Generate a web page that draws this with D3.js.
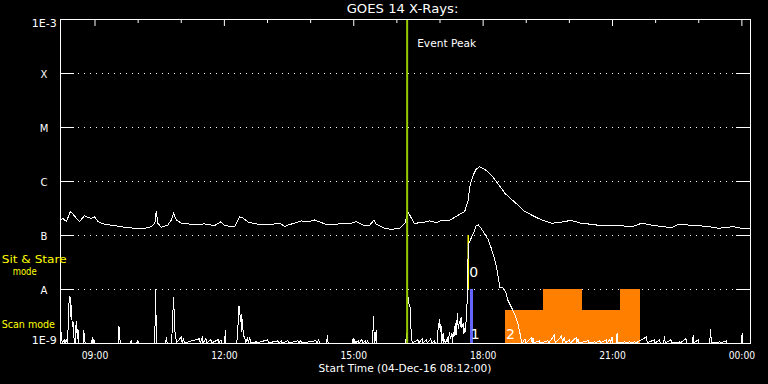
<!DOCTYPE html>
<html>
<head>
<meta charset="utf-8">
<script src="https://cdn.jsdelivr.net/npm/d3@7"></script>
<style>
  html, body { margin: 0; padding: 0; background: #000; }
  svg { display: block; }
  text { font-family: "DejaVu Sans", sans-serif; -webkit-font-smoothing: antialiased; }
</style>
</head>
<body>
<svg id="chart" width="768" height="384"></svg>
<script>
//// data
const chartTitle = 'GOES 14 X-Rays:';
const startLabel = 'Start Time (04-Dec-16 08:12:00)';
const windowStart = '08:12';
const windowEnd = '00:12';
const peakTime = '16:15';
const peakLabel = 'Event Peak';

// flare classes on the log axis
const classNames = ['X', 'M', 'C', 'B', 'A'];
const classFlux = [1e-4, 1e-5, 1e-6, 1e-7, 1e-8];
const edgeNames = ['1E-3', '1E-9'];
const edgeFlux = [1e-3, 1e-9];

// hourly ticks along the top, labelled every 3 hours below
const hourTicks = ['09:00', '10:00', '11:00', '12:00', '13:00', '14:00', '15:00', '16:00',
    '17:00', '18:00', '19:00', '20:00', '21:00', '22:00', '23:00', '00:00'];
const labelledHours = ['09:00', '12:00', '15:00', '18:00', '21:00', '00:00'];

// value below the plot floor (clamped to the bottom axis)
const F = 7e-10;

// 1-8 A channel
const longSeries = [
    ['08:12', 1.9e-7], ['08:14', 1.9e-7], ['08:16', 2.04e-7], ['08:21', 1.76e-7], ['08:26', 2.7e-7],
    ['08:29', 2.52e-7], ['08:33', 2.18e-7], ['08:39', 1.76e-7], ['08:46', 2.28e-7], ['08:51', 2.09e-7],
    ['08:56', 2.04e-7], ['09:00', 2.18e-7], ['09:05', 1.76e-7], ['09:14', 1.58e-7], ['09:28', 1.49e-7],
    ['09:42', 1.39e-7], ['09:56', 1.33e-7], ['10:10', 1.33e-7], ['10:19', 1.43e-7], ['10:24', 1.65e-7],
    ['10:26', 2.78e-7], ['10:28', 1.65e-7], ['10:33', 1.39e-7], ['10:42', 1.53e-7], ['10:47', 1.9e-7],
    ['10:50', 2.52e-7], ['10:54', 1.9e-7], ['11:01', 1.65e-7], ['11:15', 1.58e-7], ['11:33', 1.6e-7],
    ['11:47', 1.49e-7], ['11:56', 1.76e-7], ['12:01', 1.49e-7], ['12:15', 1.43e-7], ['12:22', 2.18e-7],
    ['12:27', 2.04e-7], ['12:34', 1.72e-7], ['12:48', 1.58e-7], ['13:06', 1.58e-7], ['13:18', 1.65e-7],
    ['13:25', 1.43e-7], ['13:29', 1.53e-7], ['13:38', 1.65e-7], ['13:48', 1.82e-7], ['13:57', 1.74e-7],
    ['14:06', 1.9e-7], ['14:16', 1.69e-7], ['14:25', 1.53e-7], ['14:39', 1.6e-7], ['14:53', 1.6e-7],
    ['15:04', 1.76e-7], ['15:14', 1.53e-7], ['15:23', 1.53e-7], ['15:29', 1.9e-7], ['15:32', 1.58e-7],
    ['15:44', 1.33e-7], ['15:53', 1.27e-7], ['16:05', 1.33e-7], ['16:12', 1.65e-7], ['16:16', 2.7e-7],
    ['16:21', 2.04e-7], ['16:25', 1.65e-7], ['16:35', 1.69e-7], ['16:46', 1.82e-7], ['16:56', 1.69e-7],
    ['17:02', 1.85e-7], ['17:12', 1.82e-7], ['17:19', 2.04e-7], ['17:28', 2.42e-7], ['17:35', 2.7e-7],
    ['17:40', 4.45e-7], ['17:42', 7.84e-7], ['17:47', 1.29e-6], ['17:51', 1.65e-6], ['17:56', 1.84e-6],
    ['18:03', 1.65e-6], ['18:12', 1.29e-6], ['18:21', 9.06e-7], ['18:31', 5.92e-7], ['18:40', 4.58e-7],
    ['18:52', 3.34e-7], ['18:58', 2.78e-7], ['19:08', 2.35e-7], ['19:17', 2.04e-7], ['19:26', 1.82e-7],
    ['19:36', 1.65e-7], ['19:49', 1.72e-7], ['20:03', 1.87e-7], ['20:17', 1.65e-7], ['20:31', 1.58e-7],
    ['20:45', 1.49e-7], ['20:59', 1.49e-7], ['21:13', 1.49e-7], ['21:27', 1.41e-7], ['21:41', 1.65e-7],
    ['21:55', 1.53e-7], ['22:09', 1.43e-7], ['22:23', 1.37e-7], ['22:32', 1.58e-7], ['22:46', 1.53e-7],
    ['23:00', 1.49e-7], ['23:14', 1.43e-7], ['23:28', 1.33e-7], ['23:37', 1.37e-7], ['23:48', 1.43e-7],
    ['00:00', 1.33e-7], ['00:12', 1.29e-7]
];

// 0.5-4 A channel
const shortSeries = [
    ['08:12', F], ['08:13', 1.3e-9], ['08:14', 1.62e-9], ['08:15', F], ['08:18', 1.14e-9], ['08:19', F],
    ['08:21', 1.2e-9], ['08:22', F], ['08:23', 1.5e-9], ['08:24', 4e-9], ['08:25', 7.2e-9], ['08:26', 7.0e-9],
    ['08:27', 3e-9], ['08:28', 5.1e-9], ['08:29', 2e-9], ['08:30', 2.6e-9], ['08:31', 1.3e-9], ['08:33', F],
    ['08:34', 2.0e-9], ['08:35', 2.55e-9], ['08:36', 1.2e-9], ['08:37', 1.8e-9], ['08:38', F], ['08:44', F],
    ['08:45', 1.74e-9], ['08:46', 1.3e-9], ['08:47', F], ['08:56', F], ['08:57', 1.3e-9], ['08:58', F],
    ['08:59', 1.2e-9], ['09:00', F], ['09:33', F], ['09:34', 2.06e-9], ['09:35', 1.3e-9], ['09:36', F],
    ['09:50', F], ['09:51', 1.1e-9], ['09:52', F], ['09:59', F], ['10:00', 1.15e-9], ['10:01', F],
    ['10:23', F], ['10:24', 1.4e-9], ['10:25', 9.9e-9], ['10:26', 1.5e-9], ['10:27', F], ['10:39', F],
    ['10:40', 1.3e-9], ['10:41', F], ['10:47', F], ['10:48', 1.6e-9], ['10:50', 7.2e-9], ['10:51', 3.2e-9],
    ['10:52', 1.6e-9], ['10:53', 1.3e-9], ['10:54', F], ['11:01', 1.3e-9], ['11:02', F], ['11:04', 1.25e-9],
    ['11:05', F], ['11:26', 1.2e-9], ['11:27', F], ['11:30', 1.25e-9], ['11:31', F], ['11:35', 1.2e-9],
    ['11:36', F], ['11:42', 1.15e-9], ['11:43', F], ['11:52', 1.15e-9], ['11:53', F], ['11:56', 1.15e-9],
    ['11:57', F], ['12:01', F], ['12:02', 1.74e-9], ['12:03', F], ['12:18', F], ['12:19', 1.5e-9],
    ['12:20', 2.5e-9], ['12:21', 4.84e-9], ['12:22', 4.2e-9], ['12:23', 2.4e-9], ['12:24', 3.5e-9],
    ['12:25', 1.6e-9], ['12:26', 2.8e-9], ['12:27', 1.3e-9], ['12:29', 1.3e-9], ['12:30', F],
    ['12:33', 1.25e-9], ['12:34', F], ['12:36', 1.3e-9], ['12:37', F], ['12:45', 1.05e-9], ['12:46', F],
    ['13:01', 1.15e-9], ['13:02', F], ['13:15', 1.1e-9], ['13:16', F], ['13:20', 1.1e-9], ['13:21', F],
    ['13:29', 1.1e-9], ['13:30', F], ['13:43', 1.1e-9], ['13:44', F], ['13:47', 1.1e-9], ['13:48', F],
    ['14:08', 1.1e-9], ['14:09', F], ['14:12', 1.15e-9], ['14:13', F], ['14:23', F], ['14:24', 1.41e-9],
    ['14:25', F], ['14:59', F], ['15:00', 1.25e-9], ['15:01', F], ['15:02', 1.2e-9], ['15:03', F],
    ['15:07', 1.1e-9], ['15:08', F], ['15:12', 1.15e-9], ['15:13', F], ['15:17', 1.1e-9], ['15:18', F],
    ['15:20', 1.1e-9], ['15:21', F], ['15:27', F], ['15:28', 3.16e-9], ['15:29', 1.5e-9], ['15:30', F],
    ['15:32', 1.74e-9], ['15:33', F], ['16:13', F], ['16:14', 1.5e-9], ['16:15', F], ['16:16', 7.7e-9],
    ['16:17', 5.5e-9], ['16:19', 4.6e-9], ['16:20', 2.0e-9], ['16:21', 1.5e-9], ['16:22', F],
    ['16:30', 1.15e-9], ['16:31', F], ['16:36', 1.2e-9], ['16:37', F], ['16:42', 1.15e-9], ['16:43', F],
    ['16:48', 1.2e-9], ['16:49', F], ['16:53', 1.1e-9], ['16:54', F], ['16:57', F], ['16:58', 1.8e-9],
    ['17:00', 2.75e-9], ['17:01', 1.6e-9], ['17:02', 2.2e-9], ['17:03', F], ['17:05', 1.5e-9], ['17:06', F],
    ['17:07', 1.2e-9], ['17:08', F], ['17:11', 1.2e-9], ['17:12', F], ['17:14', 1.6e-9], ['17:15', 1.2e-9],
    ['17:17', 1.5e-9], ['17:18', F], ['17:19', 1.6e-9], ['17:20', 1.3e-9], ['17:22', 2.3e-9],
    ['17:23', 1.4e-9], ['17:25', 3.55e-9], ['17:26', 1.8e-9], ['17:28', 2.6e-9], ['17:29', 2.0e-9],
    ['17:30', 3.0e-9], ['17:31', 1.9e-9], ['17:33', 2.3e-9], ['17:34', 1.5e-9], ['17:35', 1.9e-9],
    ['17:36', 1.6e-9], ['17:37', 2.6e-9], ['17:38', 4.0e-9], ['17:39', 1.0e-8], ['17:40', 6.5e-8],
    ['17:43', 8.1e-8], ['17:48', 1.15e-7], ['17:51', 1.47e-7], ['17:54', 1.53e-7], ['17:58', 1.33e-7],
    ['18:03', 1.04e-7], ['18:08', 8.1e-8], ['18:12', 5.7e-8], ['18:17', 3.44e-8], ['18:20', 2.25e-8],
    ['18:22', 1.58e-8], ['18:24', 1.07e-8], ['18:28', 1.05e-8], ['18:32', 8.9e-9], ['18:35', 6.25e-9],
    ['18:40', 4.6e-9], ['18:45', 3.3e-9], ['18:49', 2.3e-9], ['18:52', 1.5e-9], ['18:54', 1.05e-9],
    ['18:55', F], ['18:59', 1.2e-9], ['19:00', F], ['19:08', 1.25e-9], ['19:09', F], ['19:10', 1.25e-9],
    ['19:11', F], ['19:19', 1.1e-9], ['19:20', F], ['19:31', 1.1e-9], ['19:32', F], ['19:40', 1.41e-9],
    ['19:41', F], ['19:50', 1.35e-9], ['19:51', F], ['19:54', 1.3e-9], ['19:55', F], ['20:01', 1.15e-9],
    ['20:02', F], ['20:10', 1.25e-9], ['20:11', F], ['20:13', 1.2e-9], ['20:14', F], ['20:27', 1.1e-9],
    ['20:28', F], ['20:36', 1.05e-9], ['20:37', F], ['20:43', 1.1e-9], ['20:44', F], ['20:52', 1.15e-9],
    ['20:53', F], ['20:57', 1.15e-9], ['20:58', F], ['21:00', 1.3e-9], ['21:01', F], ['21:06', F],
    ['21:07', 1.5e-9], ['21:08', F], ['21:18', 1.05e-9], ['21:19', F], ['21:25', 1.05e-9], ['21:26', F],
    ['21:32', 1.05e-9], ['21:33', F], ['21:48', 1.3e-9], ['21:49', F], ['21:59', 1.15e-9], ['22:00', F],
    ['22:06', 1.15e-9], ['22:07', F], ['22:12', F], ['22:13', 1.35e-9], ['22:14', F], ['22:22', 1.15e-9],
    ['22:23', F], ['22:34', 1.05e-9], ['22:35', F], ['22:43', 1.2e-9], ['22:44', F], ['22:52', F],
    ['22:53', 1.4e-9], ['22:54', F], ['23:00', 1.15e-9], ['23:01', F], ['23:16', F], ['23:17', 1.8e-9],
    ['23:18', 1.2e-9], ['23:19', F], ['23:30', 1.05e-9], ['23:31', F], ['23:39', 1.1e-9], ['23:40', F],
    ['00:00', F], ['00:01', 1.5e-9], ['00:02', F], ['00:12', F]
];

// observation windows: 0 = sit & stare, 1 and 2 = scans
const obsId    = ['0', '1', '2', '2', '2', '2'];
const obsStart = ['17:40', '17:42', '18:31', '19:24', '20:18', '21:11'];
const obsEnd   = ['17:40', '17:47', '19:24', '20:18', '21:11', '21:39'];
const obsTop   = [1e-7, 1e-8, 4.1e-9, 1e-8, 4.1e-9, 1e-8];
const obsBase  = [1e-8, 1e-9, 1e-9, 1e-9, 1e-9, 1e-9];

//// helpers
// clock strings before 08:00 belong to the next day
const parseTime = s => {
    const [h, m] = s.split(':').map(Number);
    return new Date(Date.UTC(2016, 11, h < 8 ? 5 : 4, h, m));
};
const obsColors = { '0': '#ffff00', '1': '#6464ff', '2': '#ff8000' };

//// layout
const box = { left: 60, right: 750, top: 19, bottom: 343 };

const svg = d3.select('#chart');
svg.append('rect').attr('width', 768).attr('height', 384).attr('fill', '#000');

const x = d3.scaleUtc()
    .domain([parseTime(windowStart), parseTime(windowEnd)])
    .range([box.left, box.right]);
const y = d3.scaleLog()
    .domain([1e-9, 1e-3])
    .range([box.bottom, box.top])
    .clamp(true);

svg.append('clipPath').attr('id', 'plot-clip')
    .append('rect')
    .attr('x', box.left).attr('y', box.top)
    .attr('width', box.right - box.left).attr('height', box.bottom - box.top + 1);

// dotted class grid lines
svg.append('g')
    .selectAll('line').data(classFlux)
    .join('line')
    .attr('x1', box.left).attr('x2', box.right)
    .attr('y1', d => y(d) + 0.5).attr('y2', d => y(d) + 0.5)
    .attr('stroke', '#fff')
    .attr('stroke-dasharray', '1,5')
    .attr('shape-rendering', 'crispEdges');

// observation windows
const obs = obsId.map((id, i) => ({
    id, start: parseTime(obsStart[i]), end: parseTime(obsEnd[i]), top: obsTop[i], base: obsBase[i]
}));
const plot = svg.append('g').attr('clip-path', 'url(#plot-clip)');

plot.selectAll('rect.obs').data(obs.filter(d => d.id !== '0'))
    .join('rect')
    .attr('class', 'obs')
    .attr('x', d => x(d.start))
    .attr('y', d => y(d.top))
    .attr('width', d => x(d.end) - x(d.start))
    .attr('height', d => y(d.base) - y(d.top))
    .attr('fill', d => obsColors[d.id])
    .attr('shape-rendering', 'crispEdges');

plot.selectAll('line.obs').data(obs.filter(d => d.id === '0'))
    .join('line')
    .attr('class', 'obs')
    .attr('x1', d => x(d.start)).attr('x2', d => x(d.start))
    .attr('y1', d => y(d.top)).attr('y2', d => y(d.base))
    .attr('stroke', d => obsColors[d.id])
    .attr('stroke-width', 1.5);

// flux curves
const line = d3.line()
    .x(d => x(parseTime(d[0])))
    .y(d => y(d[1]));

[longSeries, shortSeries].forEach(series => {
    plot.append('path')
        .datum(series)
        .attr('d', line)
        .attr('fill', 'none')
        .attr('stroke', '#fff')
        .attr('stroke-width', 1)
        .attr('shape-rendering', 'crispEdges');
});

// event peak marker
const peakX = x(parseTime(peakTime));
svg.append('line')
    .attr('x1', peakX).attr('x2', peakX)
    .attr('y1', box.top).attr('y2', box.bottom)
    .attr('stroke', '#99cc00')
    .attr('stroke-width', 2);
svg.append('text')
    .attr('x', peakX + 10).attr('y', 46.7)
    .attr('font-size', 10.5)
    .attr('textLength', 59).attr('lengthAdjust', 'spacingAndGlyphs')
    .attr('fill', '#fff')
    .text(peakLabel);

// observation ids (first window of each)
const firstObs = obs.filter((d, i) => obsId.indexOf(d.id) === i);
svg.selectAll('text.obs-id').data(firstObs)
    .join('text')
    .attr('class', 'obs-id')
    .attr('x', d => x(d.start) + 1)
    .attr('y', d => d.id === '0' ? y(d.base) - 12 : y(d.base) - 4)
    .attr('font-size', 14)
    .attr('fill', '#fff')
    .text(d => d.id);

// frame
svg.append('rect')
    .attr('x', box.left + 0.5).attr('y', box.top + 0.5)
    .attr('width', box.right - box.left).attr('height', box.bottom - box.top)
    .attr('fill', 'none')
    .attr('stroke', '#fff')
    .attr('shape-rendering', 'crispEdges');

// class ticks on both sides, pointing inward
svg.append('g')
    .attr('transform', `translate(${box.left},0)`)
    .attr('color', '#fff')
    .call(d3.axisLeft(y).tickValues(classFlux).tickSize(-14).tickFormat(''))
    .call(g => g.select('.domain').remove());
svg.append('g')
    .attr('transform', `translate(${box.right},0)`)
    .attr('color', '#fff')
    .call(d3.axisRight(y).tickValues(classFlux).tickSize(-14).tickFormat(''))
    .call(g => g.select('.domain').remove());

// hour ticks along the top: long every 3 hours
const majorHours = labelledHours.map(parseTime);
const minorHours = hourTicks.filter(h => !labelledHours.includes(h)).map(parseTime);
svg.append('g')
    .attr('transform', `translate(0,${box.top})`)
    .attr('color', '#fff')
    .call(d3.axisTop(x).tickValues(majorHours).tickSize(-7).tickFormat(''))
    .call(g => g.select('.domain').remove());
svg.append('g')
    .attr('transform', `translate(0,${box.top})`)
    .attr('color', '#fff')
    .call(d3.axisTop(x).tickValues(minorHours).tickSize(-4).tickFormat(''))
    .call(g => g.select('.domain').remove());

// hour labels below
svg.append('g')
    .attr('transform', `translate(0,${box.bottom})`)
    .attr('color', '#fff')
    .call(d3.axisBottom(x).tickValues(majorHours).tickSize(0).tickPadding(0)
        .tickFormat(d3.utcFormat('%H:%M')))
    .call(g => g.select('.domain').remove())
    .call(g => g.selectAll('text')
        .attr('dy', null)
        .attr('y', 16)
        .attr('font-size', 10)
        .attr('textLength', 26.5)
        .attr('lengthAdjust', 'spacingAndGlyphs'));

// flux labels
svg.selectAll('text.cls').data(classFlux)
    .join('text')
    .attr('class', 'cls')
    .attr('x', 44).attr('y', d => y(d) + 4.7)
    .attr('text-anchor', 'middle')
    .attr('font-size', 10)
    .attr('fill', '#fff')
    .text((d, i) => classNames[i]);
svg.selectAll('text.edge').data(edgeFlux)
    .join('text')
    .attr('class', 'edge')
    .attr('x', 56.7)
    .attr('y', (d, i) => i === 0 ? y(d) + 7.7 : y(d) + 1)
    .attr('text-anchor', 'end')
    .attr('font-size', 10)
    .attr('textLength', 25).attr('lengthAdjust', 'spacingAndGlyphs')
    .attr('fill', '#fff')
    .text((d, i) => edgeNames[i]);

// mode labels
const modeText = [
    { t: 'Sit & Stare', x: 1.7, y: 263.3, w: 65, fs: 11 },
    { t: 'mode', x: 12.7, y: 275, w: 24, fs: 10.5 },
    { t: 'Scan mode', x: 1.7, y: 328.3, w: 53.3, fs: 10.5 }
];
svg.selectAll('text.mode').data(modeText)
    .join('text')
    .attr('class', 'mode')
    .attr('x', d => d.x).attr('y', d => d.y)
    .attr('font-size', d => d.fs)
    .attr('textLength', d => d.w).attr('lengthAdjust', 'spacingAndGlyphs')
    .attr('fill', '#ffff00')
    .text(d => d.t);

// title and footer
svg.append('text')
    .attr('x', 402.5).attr('y', 13.3)
    .attr('text-anchor', 'middle')
    .attr('font-size', 11.5)
    .attr('textLength', 111.7).attr('lengthAdjust', 'spacingAndGlyphs')
    .attr('fill', '#fff')
    .text(chartTitle);
svg.append('text')
    .attr('x', 405).attr('y', 372)
    .attr('text-anchor', 'middle')
    .attr('font-size', 10)
    .attr('textLength', 173).attr('lengthAdjust', 'spacingAndGlyphs')
    .attr('fill', '#fff')
    .text(startLabel);
</script>
</body>
</html>
